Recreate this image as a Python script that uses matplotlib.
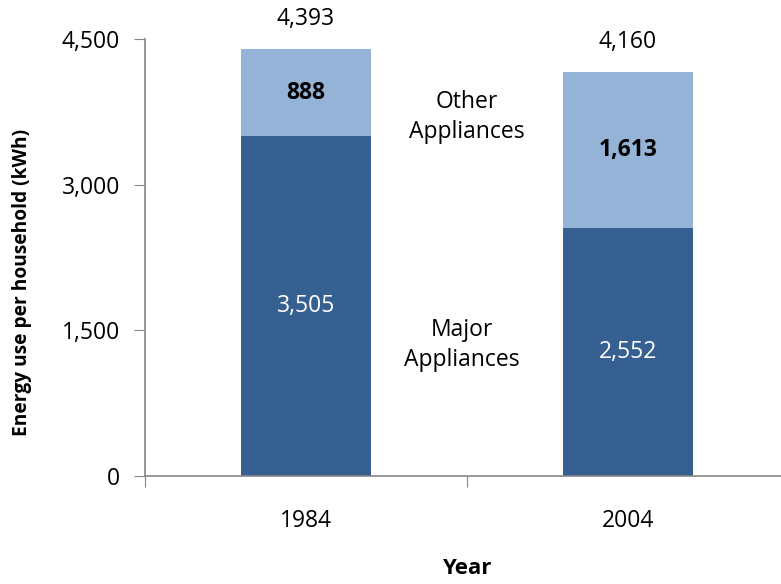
import matplotlib
matplotlib.use("Agg")
import matplotlib.pyplot as plt

years = ["1984", "2004"]
major = [3505, 2552]
other = [888, 1613]
totals = [4393, 4160]
yticks = [0, 1500, 3000, 4500]
ytick_labels = ["0", "1,500", "3,000", "4,500"]

plt.rcParams['font.family'] = ['Open Sans', 'DejaVu Sans']

W, H = 781, 584
fig = plt.figure(figsize=(W/100, H/100), dpi=100)
ax = fig.add_axes([145/W, 1-476/H, 644/W, (476-39)/H])

dark = "#376092"
light = "#95B3D7"
grey = "#868686"
fs = 16.5
x = [0, 1]
ax.bar(x, major, width=130/322, color=dark)
ax.bar(x, other, bottom=major, width=130/322, color=light)
ax.set_xlim(-0.5, 1.5)
ax.set_ylim(0, 4500)

for xi, m, o, t in zip(x, major, other, totals):
    ax.text(xi, m/2, f"{m:,}", ha="center", va="center", color="white", fontsize=fs)
    ax.text(xi, m + o/2, f"{o:,}", ha="center", va="center", color="black", fontsize=fs, fontweight="bold")
    ax.annotate(f"{t:,}", (xi, t), xytext=(0, 30), textcoords="offset pixels",
                ha="center", va="center", fontsize=fs, annotation_clip=False)

ax.text(0.5, 3700, "Other\nAppliances", ha="center", va="center", fontsize=fs, linespacing=1.35)
ax.text(0.485, 1350, "Major\nAppliances", ha="center", va="center", fontsize=fs, linespacing=1.35)

ax.set_yticks(yticks)
ax.set_yticklabels(ytick_labels, fontsize=fs)
ax.set_xticks([-0.5, 0.5, 1.5])
ax.set_xticklabels([])
ax.set_xticks(x, minor=True)
ax.set_xticklabels(years, minor=True, fontsize=fs)
ax.tick_params(axis="x", which="minor", length=0, pad=24)
ax.tick_params(axis="x", which="major", length=8, color=grey, direction="out")
ax.tick_params(axis="y", length=8, color=grey, direction="out", pad=10)
for s in ["top", "right"]:
    ax.spines[s].set_visible(False)
for s in ["left", "bottom"]:
    ax.spines[s].set_color(grey)
    ax.spines[s].set_linewidth(1.2)

fig.text(467/W, 1-569/H, "Year", ha="center", va="center", fontsize=16, fontweight="bold")
fig.text(22/W, 1-282/H, "Energy use per household (kWh)", ha="center", va="center",
         rotation=90, fontsize=13.8, fontweight="bold")

fig.savefig("out.png", dpi=100)
